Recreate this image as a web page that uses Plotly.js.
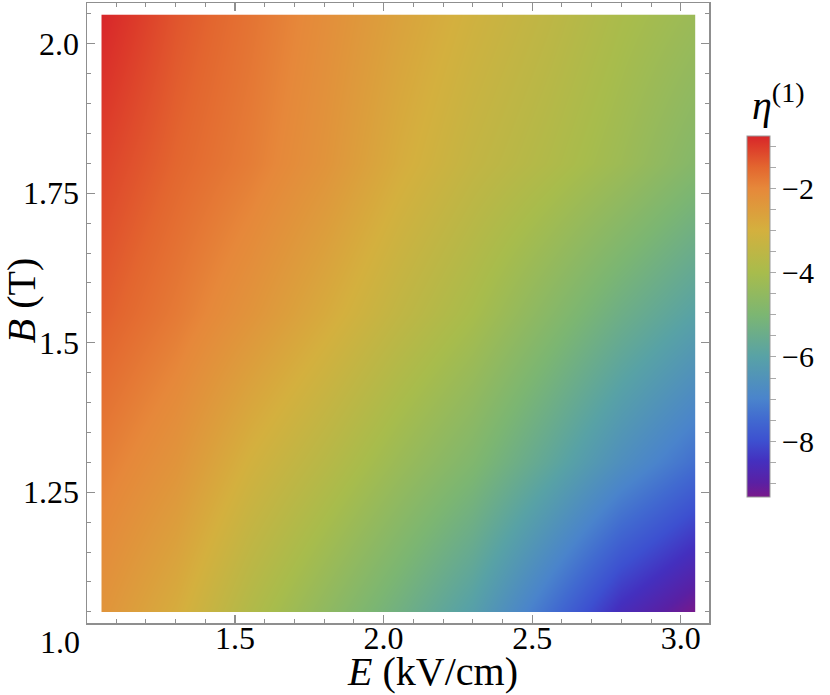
<!DOCTYPE html>
<html>
<head>
<meta charset="utf-8">
<script src="https://cdn.plot.ly/plotly-3.0.1.min.js"></script>
<style>
  body { margin: 0; background: white; }
  #plot { width: 830px; height: 695px; }
</style>
</head>
<body>
<div id="plot"></div>
<script>
// field values (grid)
let eField = [1.05, 1.3, 1.55, 1.8, 2.05, 2.3, 2.55, 2.8, 3.05];   // kV/cm
let bField = [1.05, 1.3, 1.55, 1.8, 2.05];                          // T

// eta^(1) at each (B, E), one row per B value
let eta = [
    [-2.3, -2.9, -3.8, -4.55, -5.3, -6.1, -7.35, -8.6, -9.33],
    [-1.85, -2.3, -3.05, -3.65, -4.3, -4.9, -5.75, -6.65, -7.4],
    [-1.4, -1.8, -2.3, -2.85, -3.45, -4.0, -4.7, -5.4, -6.0],
    [-1.1, -1.5, -1.85, -2.3, -2.9, -3.4, -3.8, -4.25, -4.8],
    [-0.76, -1.3, -1.7, -2.15, -2.65, -3.1, -3.5, -3.95, -4.3]
];

// colorbar ticks
let cbTickVals = [-9, -8.5, -8, -7.5, -7, -6.5, -6, -5.5, -5, -4.5, -4, -3.5, -3, -2.5, -2, -1.5, -1];
let cbTickText = cbTickVals.map(v => Number.isInteger(v) && v % 2 === 0 ? '\u2212' + Math.abs(v) : '');

// rainbow-like colour map
let rainbow = [
    [0, '#79198b'],
    [0.04, '#5a20a4'],
    [0.1, '#4430bf'],
    [0.155, '#3d50d0'],
    [0.215, '#416ad0'],
    [0.272, '#4a84cc'],
    [0.389, '#58a2a6'],
    [0.505, '#7cb672'],
    [0.622, '#a8bc4c'],
    [0.739, '#d4b03e'],
    [0.855, '#e6883a'],
    [0.914, '#e3662f'],
    [0.972, '#dc3a2a'],
    [1, '#d8262a']
];

let serif = 'Liberation Serif';
let frameColor = '#8f8f8f';

// empty trace so the framed axes get drawn
let frameTrace = {
    x: [], y: [],
    type: 'scatter',
    xaxis: 'x', yaxis: 'y',
    hoverinfo: 'skip'
};

let heat = {
    x: eField,
    y: bField,
    z: eta,
    type: 'heatmap',
    xaxis: 'x2', yaxis: 'y2',
    zsmooth: 'best',
    colorscale: rainbow,
    zmin: -9.33,
    zmax: -0.76,
    hoverinfo: 'skip',
    colorbar: {
        x: 1.061, xanchor: 'left', xpad: 0,
        y: 0.494, yanchor: 'middle', ypad: 0,
        thickness: 23,
        lenmode: 'pixels', len: 361,
        outlinecolor: '#999', outlinewidth: 1,
        tickmode: 'array',
        tickvals: cbTickVals,
        ticktext: cbTickText,
        ticks: 'outside', ticklen: 6, tickcolor: '#aaaaaa', tickwidth: 1,
        tickfont: {family: serif, size: 30, color: 'black'}
    }
};

let data = [frameTrace, heat];

let layout = {
    width: 830, height: 695,
    margin: {l: 87, r: 121, t: 3, b: 72},
    paper_bgcolor: 'white',
    plot_bgcolor: 'white',
    showlegend: false,
    font: {family: serif, color: 'black'},
    xaxis: {
        range: [1.002, 3.095],
        tick0: 1, dtick: 0.5, tickformat: '.1f',
        ticks: 'inside', ticklen: 8, tickwidth: 1.2, tickcolor: frameColor,
        minor: {tick0: 1, dtick: 0.1, ticks: 'inside', ticklen: 4, tickwidth: 1, tickcolor: frameColor},
        showline: true, linecolor: frameColor, linewidth: 1.5, mirror: 'ticks',
        showgrid: false, zeroline: false,
        ticklabelstandoff: -14,
        tickfont: {family: serif, size: 32, color: 'black'}
    },
    yaxis: {
        range: [1.0314, 2.068],
        tickmode: 'array',
        tickvals: [1.25, 1.5, 1.75, 2.0],
        ticktext: ['1.25', '1.5', '1.75', '2.0'],
        ticks: 'inside', ticklen: 8, tickwidth: 1.2, tickcolor: frameColor,
        minor: {tick0: 1, dtick: 0.05, ticks: 'inside', ticklen: 4, tickwidth: 1, tickcolor: frameColor},
        showline: true, linecolor: frameColor, linewidth: 1.5, mirror: 'ticks',
        showgrid: false, zeroline: false,
        tickfont: {family: serif, size: 32, color: 'black'}
    },
    xaxis2: {domain: [0.023, 0.9785], range: [1.05, 3.05], anchor: 'y2', visible: false},
    yaxis2: {domain: [0.0177, 0.9815], range: [1.05, 2.05], anchor: 'x2', visible: false},
    annotations: [
        {text: '1.0', xref: 'paper', yref: 'paper', x: -0.008, y: -0.0306,
         xanchor: 'right', yanchor: 'middle', showarrow: false,
         font: {family: serif, size: 32, color: 'black'}},
        {text: '<i>E</i> (kV/cm)', xref: 'paper', yref: 'paper', x: 0.555, y: -0.079,
         xanchor: 'center', yanchor: 'middle', showarrow: false,
         font: {family: serif, size: 40, color: 'black'}},
        {text: '<i>B</i> (T)', xref: 'paper', yref: 'paper', x: -0.104, y: 0.521,
         xanchor: 'center', yanchor: 'middle', textangle: -90, showarrow: false,
         font: {family: serif, size: 40, color: 'black'}},
        {text: '<i>η</i><sup>(1)</sup>', xref: 'paper', yref: 'paper', x: 1.112, y: 0.84,
         xanchor: 'center', yanchor: 'middle', showarrow: false,
         font: {family: serif, size: 40, color: 'black'}}
    ]
};

Plotly.newPlot('plot', data, layout, {staticPlot: true});
</script>
</body>
</html>
